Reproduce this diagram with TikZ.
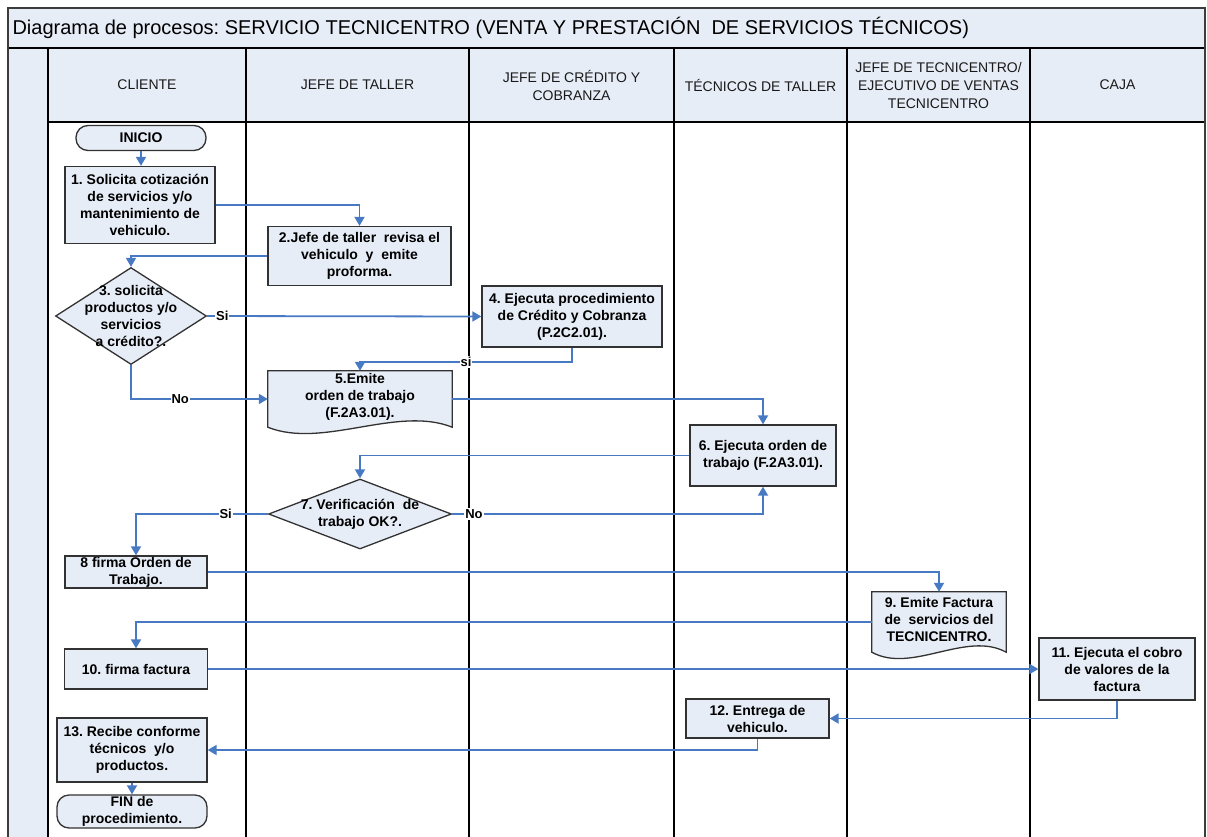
\documentclass[tikz,border=0pt]{standalone}
\usepackage{fontspec}
\setmainfont{Liberation Sans}
\usetikzlibrary{arrows.meta,shapes.geometric,calc}
\pgfdeclarelayer{back}
\pgfsetlayers{back,main}
\definecolor{lanefill}{RGB}{231,237,247}
\definecolor{flowblue}{RGB}{72,122,196}
\definecolor{framegray}{RGB}{60,60,60}
\definecolor{boxline}{RGB}{50,50,50}
\frenchspacing

% document symbol with a wavy lower edge, drawn behind the text node #1
\newcommand\docoutline[2]{%
  \path[fill=lanefill, draw=boxline, line width=1.3pt]
    (#1.north west) -- (#1.north east) -- (#1.south east)
    .. controls ($(#1.south east)+(-#2,-22)$) and ($(#1.south west)+(#2,22)$) .. (#1.south west)
    -- cycle;}

\begin{document}
\begin{tikzpicture}[x=1pt,y=-1pt,
  boxfont/.style={font=\fontsize{14}{17}\selectfont\bfseries},
  box/.style={boxfont, draw=boxline, line width=1.3pt, fill=lanefill, inner sep=0pt, align=center},
  term/.style={box, rounded corners=12pt},
  decision/.style={diamond, draw=boxline, line width=1.3pt, fill=lanefill, inner sep=0pt},
  dtext/.style={boxfont, inner sep=0pt, align=center},
  docnode/.style={boxfont, inner sep=0pt, align=center},
  lanehead/.style={font=\fontsize{14}{18}\selectfont, text=black!90, align=center},
  lbl/.style={fill=white, inner sep=1pt, font=\fontsize{13}{13}\selectfont\bfseries},
  flow/.style={draw=flowblue, line width=1.8pt, -{Triangle[length=9pt,width=10pt]}},
  laneline/.style={draw=black, line width=1.1pt}
]
\useasboundingbox (0,0) rectangle (1207,836);

% ---------- pool and lanes ----------
\begin{pgfonlayer}{back}
  \fill[white] (0,0) rectangle (1207,836);
  \fill[lanefill] (8,8) rectangle (1205,48);
  \fill[lanefill] (48,48) rectangle (1205,122);
  \fill[lanefill] (8,48) rectangle (48,840);
  \draw[laneline] (8,48) -- (1205,48);
  \draw[laneline] (48,122) -- (1205,122);
  \foreach \lx in {48,246,469,674,847,1030}
    \draw[laneline] (\lx,48) -- (\lx,840);
  \draw[draw=framegray, line width=1.6pt] (8,840) -- (8,8) -- (1205,8) -- (1205,840);
\end{pgfonlayer}

\node[anchor=west, font=\fontsize{20}{24}\selectfont] (title) at (9,28)
  {Diagrama de procesos: SERVICIO TECNICENTRO (VENTA Y PRESTACIÓN~ DE SERVICIOS TÉCNICOS)};

\node[lanehead] (hcli) at (147,85) {CLIENTE};
\node[lanehead] (htal) at (357.5,85) {JEFE DE TALLER};
\node[lanehead] (hcre) at (571.5,85) {JEFE DE CRÉDITO Y\\COBRANZA};
\node[lanehead] (htec) at (760.5,85) {TÉCNICOS DE TALLER};
\node[lanehead] (hjef) at (938.5,85) {JEFE DE TECNICENTRO/\\EJECUTIVO DE VENTAS\\TECNICENTRO};
\node[lanehead] (hcaj) at (1117.5,85) {CAJA};

% ---------- process steps ----------
\node[term, minimum width=130pt, minimum height=25pt] (ini) at (141,138) {INICIO};
\node[box, minimum width=150pt, minimum height=77pt] (n1) at (140,205)
  {1. Solicita cotización\\de servicios y/o\\mantenimiento de\\vehiculo.};
\node[box, minimum width=183pt, minimum height=59pt] (n2) at (359.5,256)
  {2.Jefe de taller~ revisa el\\vehiculo~ y~ emite\\proforma.};
\node[decision, minimum width=151pt, minimum height=97pt] (d3) at (131,316) {};
\node[dtext] (d3t) at (d3.center) {3. solicita\\productos y/o\\servicios\\a crédito?.};
\node[box, minimum width=180pt, minimum height=61pt] (n4) at (572,316.5)
  {4. Ejecuta procedimiento\\de Crédito y Cobranza\\(P.2C2.01).};
\node[docnode, minimum width=184pt, minimum height=56pt] (n5) at (360,399)
  {5.Emite\\orden de trabajo\\(F.2A3.01).\\[-9pt]};
\node[box, minimum width=146pt, minimum height=61pt] (n6) at (763,455.5)
  {6. Ejecuta orden de\\trabajo (F.2A3.01).};
\node[decision, minimum width=183pt, minimum height=70pt] (d7) at (360,514) {};
\node[dtext] (d7t) at (d7.center) {7. Verificación~ de\\trabajo OK?.};
\node[box, minimum width=142pt, minimum height=32pt] (n8) at (136,572)
  {8 firma Orden de\\Trabajo.};
\node[docnode, minimum width=134pt, minimum height=60pt] (n9) at (939,622)
  {9. Emite Factura\\de~ servicios del\\TECNICENTRO.\\[-11pt]};
\node[box, minimum width=143pt, minimum height=40pt] (n10) at (136,669) {10. firma factura};
\node[box, minimum width=156pt, minimum height=62pt] (n11) at (1117,669)
  {11. Ejecuta el cobro\\de valores de la\\factura};
\node[box, minimum width=143pt, minimum height=39pt] (n12) at (757.5,718.5)
  {12. Entrega de\\vehiculo.};
\node[box, minimum width=150pt, minimum height=64pt] (n13) at (132,750)
  {13. Recibe conforme\\técnicos~ y/o\\productos.};
\node[term, minimum width=150pt, minimum height=33pt] (fin) at (132,811.5)
  {FIN de\\procedimiento.};

\begin{pgfonlayer}{back}
  \docoutline{n5}{55}
  \docoutline{n9}{40}
\end{pgfonlayer}

% ---------- connectors ----------
\draw[flow] (ini.south) -- (ini.south |- n1.north);
\draw[flow] (n1.east) -| (n2.north);
\draw[flow] (n2.west) -| (d3.north);
\draw[flow] (d3.east) -- node[lbl, pos=0.055] {Si} (n4.west);
\draw[flow] (n4.south) |- node[lbl, pos=0.75] {si} ($(n5.north)+(0,-9)$) -- (n5.north);
\draw[flow] (d3.south) |- node[lbl, pos=0.68] {No} (n5.west);
\draw[flow] (n5.east) -| (n6.north);
\draw[flow] (n6.west) -| (d7.north);
\draw[flow] (d7.east) -| node[lbl, pos=0.035] {No} (n6.south);
\draw[flow] (d7.west) -| node[lbl, pos=0.16] {Si} (n8.north);
\draw[flow] (n8.east) -| (n9.north);
\draw[flow] (n9.west) -| (n10.north);
\draw[flow] (n10.east) -- (n11.west);
\draw[flow] (n11.south) |- (n12.east);
\draw[flow] (n12.south) |- (n13.east);
\draw[flow] (n13.south) -- (fin.north);
\end{tikzpicture}
\end{document}
